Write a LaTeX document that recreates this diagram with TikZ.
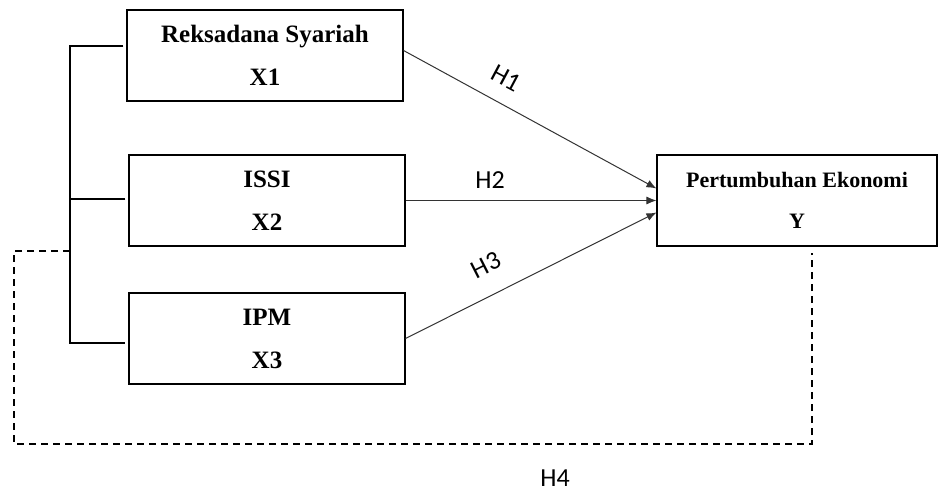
\documentclass[tikz,border=0pt]{standalone}
\usepackage{fontspec}
\setmainfont{Liberation Serif}
\newfontfamily\hfont{Carlito}
\usetikzlibrary{arrows.meta}

\begin{document}
\begin{tikzpicture}[x=1pt,y=-1pt,
  var/.style={draw,line width=1.1pt,minimum width=276pt,minimum height=91pt,inner sep=0pt,align=center,font=\fontsize{25}{43}\selectfont\bfseries},
  hyp/.style={draw=black!80,line width=1pt,-{Latex[length=10pt,width=8pt]}},
  hlab/.style={font=\hfont\fontsize{26}{30}\selectfont,inner sep=1pt},
  bus/.style={line width=1.3pt},
  hyp4/.style={line width=1.2pt,dash pattern=on 7pt off 5pt}]
\useasboundingbox (0,0) rectangle (939,492);
\node[var] (x1) at (265,55.5) {Reksadana Syariah\\X1};
\node[var] (x2) at (267,200.5) {ISSI\\X2};
\node[var] (x3) at (267,338.5) {IPM\\X3};
\node[var,minimum width=280pt,font=\fontsize{22}{41}\selectfont\bfseries] (y) at (797,200.5) {Pertumbuhan Ekonomi\\Y};
% hypotheses H1 - H3
\draw[hyp] ([yshift=5pt]x1.east) -- ([yshift=12pt]y.west);
\draw[hyp] (x2.east) -- (y.west);
\draw[hyp] (x3.east) -- ([yshift=-12pt]y.west);
\node[hlab,rotate=-28] (h1) at (506,78) {H1};
\node[hlab] (h2) at (490,180) {H2};
\node[hlab,rotate=27] (h3) at (486,265) {H3};
% bracket joining X1, X2, X3
\coordinate (t1) at (70,46);
\coordinate (t3) at (70,343);
\coordinate (d1) at (70,251);
\draw[bus] ([xshift=-3pt,yshift=9.5pt]x1.west) -- (t1) -- (t3) -- ([xshift=-3pt,yshift=-4.5pt]x3.west);
\draw[bus] ([xshift=-3pt,yshift=1.5pt]x2.west) -- (t1 |- 0,199);
% H4 (simultaneous)
\coordinate (c1) at (14,444);
\draw[hyp4] (d1) -| (c1) -| ([xshift=15pt,yshift=-6pt]y.south);
\node[hlab] (h4) at (555,478) {H4};
\end{tikzpicture}
\end{document}
